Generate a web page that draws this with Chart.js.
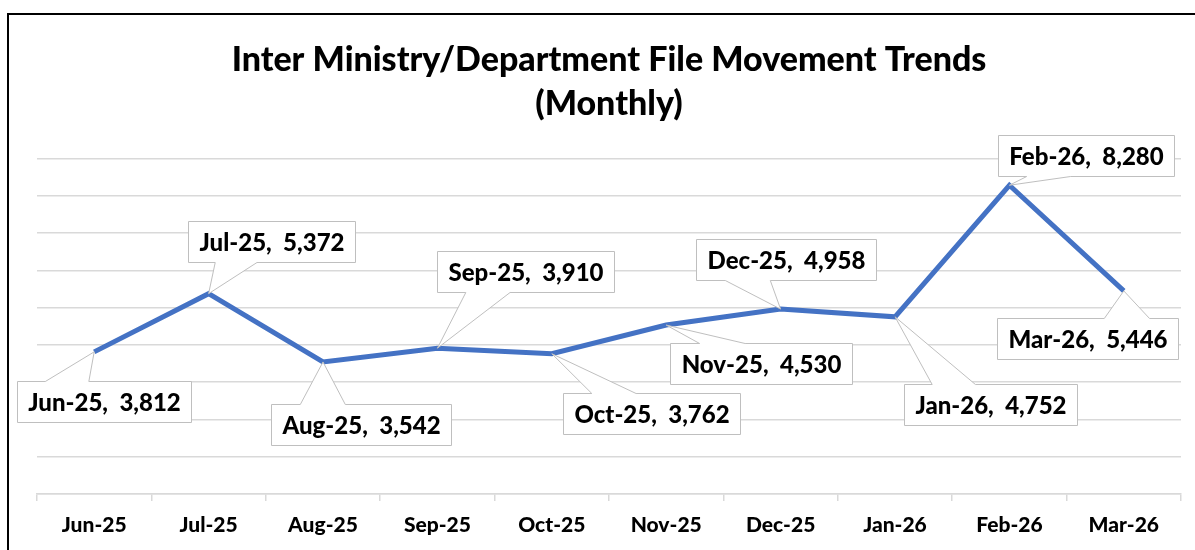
<!DOCTYPE html>
<html>
<head>
<meta charset="utf-8">
<script src="https://cdn.jsdelivr.net/npm/chart.js@4"></script>
<style>
  html, body { margin: 0; padding: 0; background: #fff; overflow: hidden; }
  #chart { display: block; }
</style>
</head>
<body>
<canvas id="chart" width="1195" height="550"></canvas>
<script>
  // ==== data ====
  const categories = ['Jun-25', 'Jul-25', 'Aug-25', 'Sep-25', 'Oct-25', 'Nov-25', 'Dec-25', 'Jan-26', 'Feb-26', 'Mar-26'];
  const fileMovements = [3812, 5372, 3542, 3910, 3762, 4530, 4958, 4752, 8280, 5446];
  const titleLines = ['Inter Ministry/Department File Movement Trends', '(Monthly)'];
  const yMin = 0, yMax = 9000, yStep = 1000;

  // callout box centre, relative to its point (px)
  const calloutOffsets = [[10, 50], [63, -52], [38, 63], [88, -77], [100, 60], [95, 38], [5, -50], [95, 88], [77, -30], [-36, 48]];

  const FONT = 'Lato, "Open Sans", sans-serif';

  // black frame (top + left edge visible)
  const framePlugin = {
    id: 'frame',
    beforeDraw(c) {
      const ctx = c.ctx;
      ctx.save();
      ctx.fillStyle = '#fff';
      ctx.fillRect(0, 0, c.width, c.height);
      ctx.strokeStyle = '#000';
      ctx.lineWidth = 2;
      ctx.beginPath();
      ctx.moveTo(8, c.height + 2);
      ctx.lineTo(8, 14);
      ctx.lineTo(c.width + 2, 14);
      ctx.stroke();
      ctx.restore();
    }
  };

  // Excel-style callout labels
  const calloutPlugin = {
    id: 'callouts',
    afterDatasetsDraw(c) {
      const ctx = c.ctx;
      const meta = c.getDatasetMeta(0);
      ctx.save();
      ctx.font = '900 24px ' + FONT;
      ctx.textAlign = 'center';
      ctx.textBaseline = 'middle';
      meta.data.forEach((pt, i) => {
        const txt = categories[i] + ',  ' + fileMovements[i].toLocaleString('en-US');
        const w = Math.round(ctx.measureText(txt).width + 22);
        const h = 41;
        const cx = pt.x + calloutOffsets[i][0];
        const cy = pt.y + calloutOffsets[i][1];
        const l = Math.round(cx - w / 2) + 0.5, r = l + w;
        const t = Math.round(cy - h / 2) + 0.5, b = t + h;
        let x0, x1;
        if (pt.x < cx) { x0 = l + w * 0.16; x1 = l + w * 0.41; }
        else { x0 = r - w * 0.41; x1 = r - w * 0.16; }
        ctx.beginPath();
        if (pt.y < t) {
          ctx.moveTo(l, t); ctx.lineTo(x0, t); ctx.lineTo(pt.x, pt.y); ctx.lineTo(x1, t);
          ctx.lineTo(r, t); ctx.lineTo(r, b); ctx.lineTo(l, b);
        } else {
          ctx.moveTo(l, t); ctx.lineTo(r, t); ctx.lineTo(r, b); ctx.lineTo(x1, b);
          ctx.lineTo(pt.x, pt.y); ctx.lineTo(x0, b); ctx.lineTo(l, b);
        }
        ctx.closePath();
        ctx.fillStyle = '#fff';
        ctx.fill();
        ctx.strokeStyle = '#bfbfbf';
        ctx.lineWidth = 1;
        ctx.stroke();
        ctx.fillStyle = '#000';
        ctx.fillText(txt, (l + r) / 2, (t + b) / 2 + 1);
      });
      ctx.restore();
    }
  };

  new Chart(document.getElementById('chart'), {
    type: 'line',
    data: {
      labels: categories,
      datasets: [{
        data: fileMovements,
        borderColor: '#4472C4',
        borderWidth: 5,
        pointRadius: 0,
        tension: 0,
        fill: false
      }]
    },
    options: {
      responsive: false,
      animation: false,
      devicePixelRatio: 1,
      layout: { padding: { left: 37, right: 14, top: 0, bottom: 0 } },
      plugins: {
        legend: { display: false },
        tooltip: { enabled: false },
        title: {
          display: true,
          text: titleLines,
          color: '#000',
          font: { family: FONT, size: 34, weight: '900', lineHeight: 1.3 },
          padding: { top: 38, bottom: 32 }
        }
      },
      scales: {
        x: {
          offset: true,
          grid: { offset: true, drawOnChartArea: false, drawTicks: true, tickLength: 7, color: '#d9d9d9', lineWidth: 1.5 },
          border: { display: true, color: '#d9d9d9', width: 1.5 },
          ticks: { color: '#000', padding: 12, maxRotation: 0, font: { family: FONT, size: 21, weight: '900' } },
          afterFit: (s) => { s.height = 56; }
        },
        y: {
          min: yMin,
          max: yMax,
          ticks: { display: false, stepSize: yStep },
          grid: { color: '#d9d9d9', lineWidth: 1.5, drawTicks: false },
          border: { display: false },
          afterFit: (s) => { s.width = 0; }
        }
      }
    },
    plugins: [framePlugin, calloutPlugin]
  });
</script>
</body>
</html>
